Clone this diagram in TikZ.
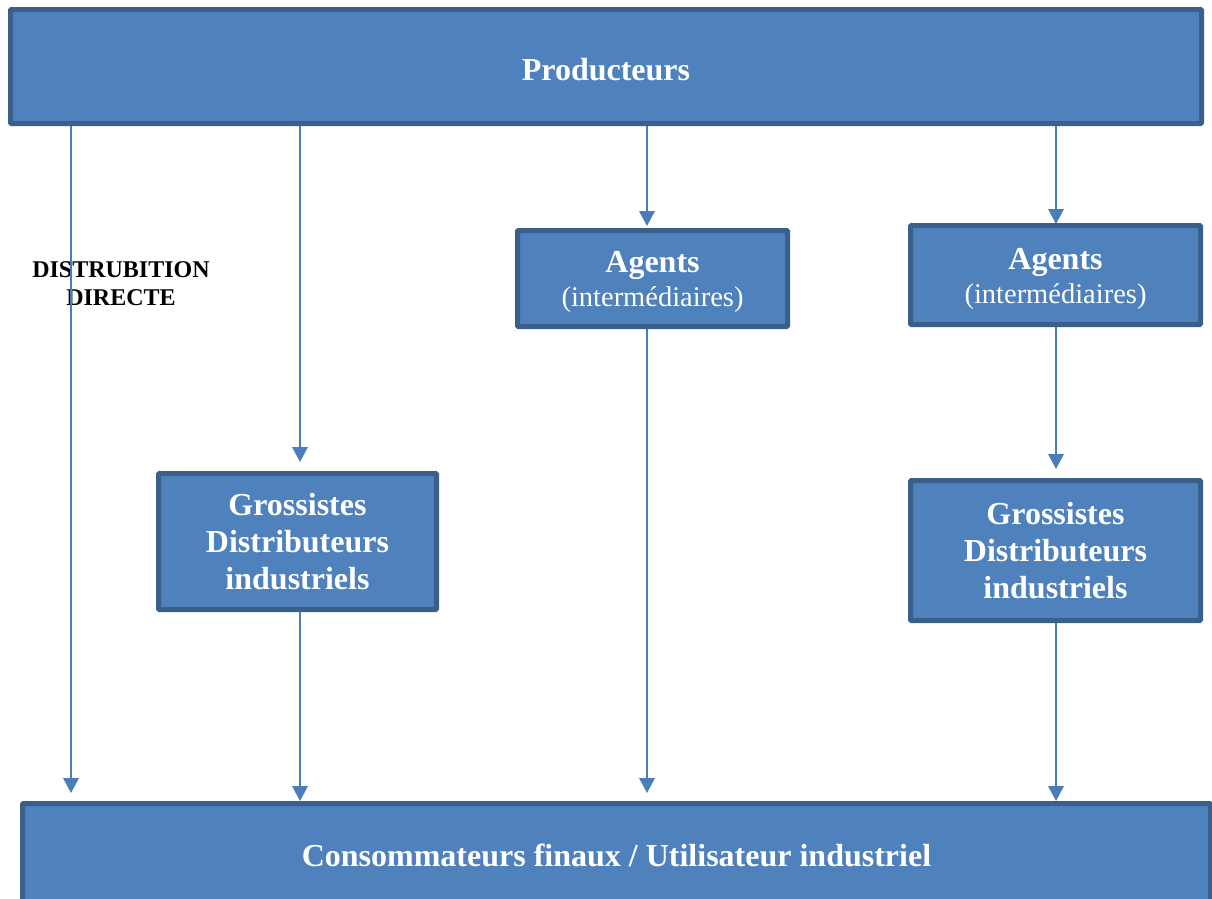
\documentclass[tikz,border=0pt]{standalone}
\usepackage{fontspec}
\setmainfont{Liberation Serif}
\usetikzlibrary{arrows.meta}
\definecolor{boxfill}{HTML}{4F81BD}
\definecolor{boxline}{HTML}{3A5F8B}
\definecolor{arrline}{HTML}{4A7EBB}
\tikzset{
  box/.style={draw=boxline, fill=boxfill, line width=5pt, rounded corners=1pt,
    text=white, align=center, inner sep=0pt,
    font=\bfseries\fontsize{32}{37}\selectfont},
  arr/.style={draw=arrline, line width=2pt, -{Triangle[width=15.5pt,length=15pt]}},
  lbl/.style={align=center, text=black, font=\bfseries\fontsize{24}{28}\selectfont}
}
\begin{document}
\begin{tikzpicture}[x=1pt,y=-1pt]
\useasboundingbox (0,0) rectangle (1212,898);
\clip (0,0) rectangle (1212,898);
\node[box, minimum width=1191pt, minimum height=114pt] (prod) at (606,66.5) {\raisebox{-3pt}[\height][\depth]{Producteurs}};
\node[box, minimum width=270pt, minimum height=96pt] (a1) at (652.5,278.5)
  {\raisebox{-4pt}[\height][\depth]{\begin{tabular}{@{}c@{}}Agents\\[-3pt]{\mdseries\fontsize{28.5}{33}\selectfont (intermédiaires)}\end{tabular}}};
\node[box, minimum width=290pt, minimum height=99pt] (a2) at (1055.5,275)
  {\raisebox{-4pt}[\height][\depth]{\begin{tabular}{@{}c@{}}Agents\\[-3pt]{\mdseries\fontsize{28.5}{33}\selectfont (intermédiaires)}\end{tabular}}};
\node[box, minimum width=278pt, minimum height=136pt] (g1) at (297.5,541.5)
  {Grossistes\\Distributeurs\\industriels};
\node[box, minimum width=290pt, minimum height=140pt] (g2) at (1055.5,550.5)
  {Grossistes\\Distributeurs\\industriels};
\node[box, minimum width=1188pt, minimum height=104pt] (cons) at (616.5,855.5)
  {Consommateurs finaux / Utilisateur industriel};
\node[lbl] (dd) at (121,284) {DISTRUBITION\\DIRECTE};
\coordinate (t1) at (71,793);
\coordinate (t2) at (300,462);
\coordinate (t3) at (647,226);
\coordinate (t4) at (647,793);
\coordinate (t5) at (1056,224);
\coordinate (t6) at (1056,469);
\draw[arr] (prod.south -| t1) -- (t1);
\draw[arr] (prod.south -| t2) -- (t2);
\draw[arr] (g1.south -| t2) -- (cons.north -| t2);
\draw[arr] (prod.south -| t3) -- (t3);
\draw[arr] (a1.south -| t4) -- (t4);
\draw[arr] (prod.south -| t5) -- (t5);
\draw[arr] (a2.south -| t6) -- (t6);
\draw[arr] (g2.south -| t6) -- (cons.north -| t6);
\end{tikzpicture}
\end{document}
